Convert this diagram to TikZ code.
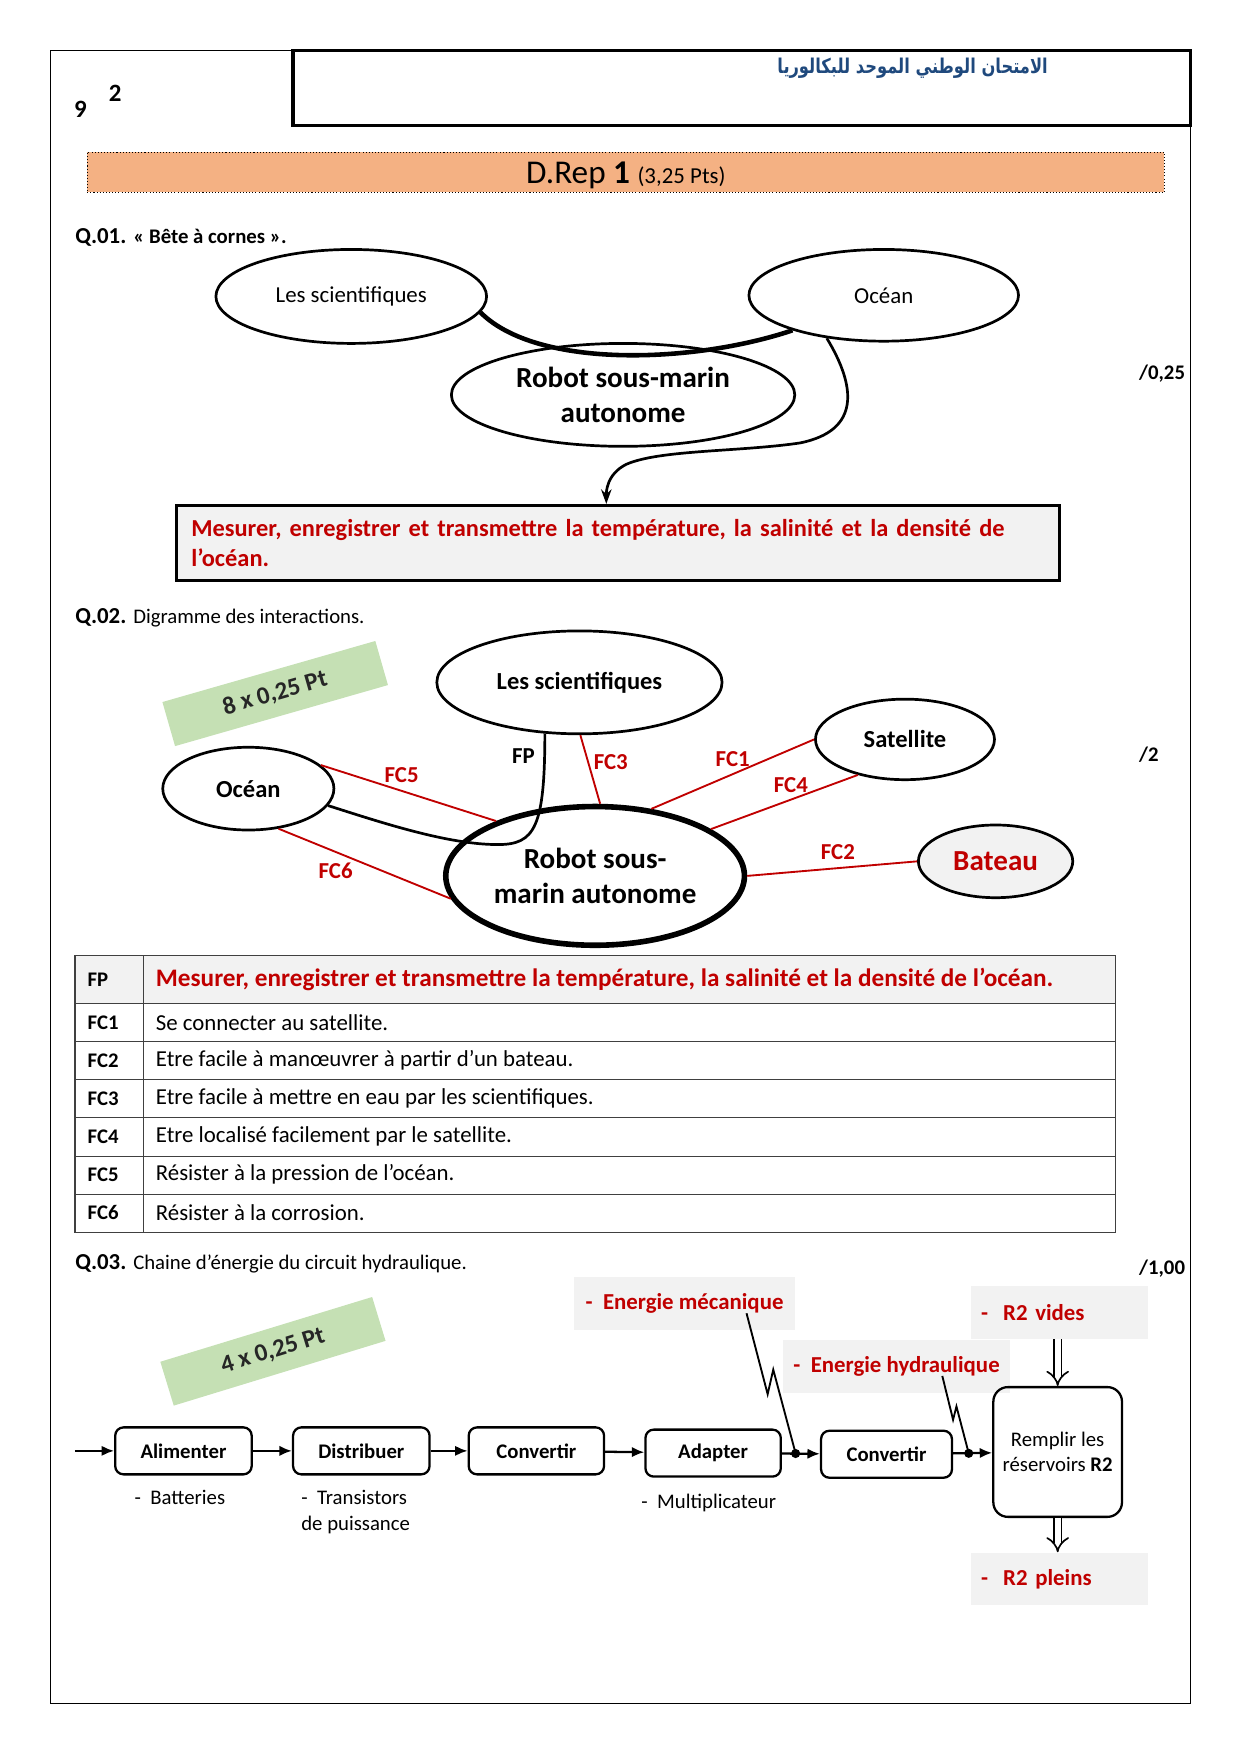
\documentclass[tikz,border=0pt]{standalone}
\usepackage{fontspec}
\setmainfont{Carlito}
\newfontfamily\arabicfont[Script=Arabic]{DejaVu Sans}
\TeXXeTstate=1
\usepackage{tikz}
\usetikzlibrary{arrows.meta,positioning,shapes.geometric,calc}
\usepackage{xcolor}
\definecolor{rouge}{RGB}{192,0,0}
\definecolor{grisclair}{RGB}{242,242,242}
\definecolor{orangebar}{RGB}{244,177,131}
\definecolor{vertnote}{RGB}{197,224,180}
\definecolor{bleuar}{RGB}{31,73,125}
\newcommand\upx{0.018936cm}
\hyphenpenalty=10000

\begin{document}
\begin{tikzpicture}[x=\upx,y=-\upx,font=\fontsize{11}{13}\selectfont,
	ell/.style={ellipse,draw,line width=1.3pt,inner sep=0pt},
	acteur/.style={ell,font=\fontsize{11.8}{14}\selectfont\bfseries},
	txt/.style={anchor=west,inner sep=0pt},
	petit/.style={font=\fontsize{10}{12.5}\selectfont},
	fc/.style={text=rouge,font=\fontsize{11}{13}\selectfont\bfseries,inner sep=1pt},
	fcline/.style={rouge,line width=0.9pt},
	note/.style={fill=vertnote,font=\fontsize{12}{14}\selectfont\bfseries,text=black!85,
		minimum width=198*\upx,minimum height=41*\upx},
	bloc/.style={draw,rounded corners=4pt,line width=1.1pt,font=\bfseries,minimum height=42*\upx},
	energie/.style={fill=grisclair,text=rouge,font=\fontsize{11}{13}\selectfont\bfseries,
		align=left,inner xsep=9*\upx,minimum height=47*\upx},
	fleche/.style={line width=1.1pt,-{Latex[length=6pt,width=5pt]}},
	creux/.style={double,double distance=3pt,line width=0.8pt,-{Implies}}]
	\useasboundingbox (0,0) rectangle (1109,1568);
	\draw[line width=0.6pt] (262,45) -- (45,45) -- (45,1523) -- (1064,1523) -- (1064,112);
	\node[draw,line width=1.6pt,minimum width=802*\upx,minimum height=67*\upx] (entete) at (663,78.5) {};
	\node[anchor=east,inner sep=0pt,text=bleuar,font=\arabicfont\bfseries\fontsize{9.8}{12}\selectfont] (titrear) at (937,61)
	{\scalebox{0.8}[1]{\beginR الامتحان الوطني الموحد للبكالوريا\endR}};
	\node[font=\fontsize{12}{14}\selectfont\bfseries] (n9) at (72,98) {9};
	\node[font=\fontsize{12}{14}\selectfont\bfseries] (n2) at (103,83) {2};
	\node[draw,densely dotted,line width=0.5pt,fill=orangebar,minimum width=963*\upx,minimum height=36*\upx] (titre) at (559.5,154) {};
	\node (titretxt) at ($(titre)+(0,3)$)
	{\fontsize{16}{18}\selectfont D.Rep \textbf{1} {\fontsize{11}{13}\selectfont(3,25 Pts)}};

	\node[txt] (q1) at (67,212) {\textbf{Q.01. {\fontsize{10}{12}\selectfont« Bête à cornes ».}}};
	\node[ell,minimum width=242*\upx,minimum height=84*\upx] (sci1) at (314,265) {Les scientifiques};
	\node[ell,minimum width=241*\upx,minimum height=82*\upx] (oc1) at (790,264) {Océan};
	\node[ell,minimum width=307*\upx,minimum height=92*\upx,align=center,
	font=\fontsize{14}{17}\selectfont\bfseries] (rob1) at (557,353) {Robot sous-marin\\autonome};
	\node[draw,line width=1.6pt,fill=grisclair,minimum width=789*\upx,minimum height=67*\upx,
	text width=763*\upx,inner xsep=13*\upx,align=left,text=rouge,
	font=\fontsize{11.75}{14.5}\selectfont\bfseries] (fpq1) at (552.5,485.5)
	{Mesurer, enregistrer et transmettre la température, la salinité et la densité de l’océan.};
	\draw[line width=2.2pt] (sci1.-7) .. controls (480,330) and (620,325) .. (oc1.-159);
	\draw[line width=1.3pt,-{Stealth[length=7pt,width=5pt]}] (oc1.-143) .. controls (765,345) and (770,385) .. (715,396)
	.. controls (660,404) and (590,402) .. (560,415) .. controls (542,424) and (542,440) .. (542,0 |- fpq1.north);
	\node[txt,font=\bfseries] (m1) at (1018,334) {/0,25};

	\node[txt] (q2) at (67,552) {\textbf{Q.02.} {\fontsize{10}{12}\selectfont Digramme des interactions.}};
	\node[note,rotate=16] (pts8) at (246,620) {8 x 0,25 Pt};
	\node[acteur,minimum width=255*\upx,minimum height=92*\upx] (sci2) at (518,610) {Les scientifiques};
	\node[acteur,minimum width=160*\upx,minimum height=72*\upx] (sat) at (809,661) {Satellite};
	\node[acteur,minimum width=153*\upx,minimum height=74*\upx] (oc2) at (222,705) {Océan};
	\node[ell,fill=grisclair,text=rouge,font=\fontsize{14}{17}\selectfont\bfseries,
	minimum width=138*\upx,minimum height=65*\upx] (bat) at (890,770) {Bateau};
	\node[ell,line width=2.7pt,align=center,font=\fontsize{14}{17}\selectfont\bfseries,
	minimum width=267*\upx,minimum height=124*\upx] (rob2) at (532,783) {Robot sous-\\marin autonome};
	\draw[line width=1.3pt] (sci2.-124) .. controls (487,740) and (478,755) .. (445,755)
	.. controls (400,755) and (340,735) .. (oc2.-12);
	\draw[fcline] (sci2.-89) -- (rob2.86);
	\draw[fcline] (sat.180) -- (rob2.50);
	\draw[fcline] (sat.-143) -- (rob2.22);
	\draw[fcline] (bat.180) -- (rob2.0);
	\draw[fcline] (oc2.18) -- (rob2.151);
	\draw[fcline] (oc2.-53) -- (rob2.-171);
	\node[fc,text=black] (lfp) at (468,676) {FP};
	\node[fc] (lfc3) at (546,681) {FC3};
	\node[fc] (lfc1) at (655,679) {FC1};
	\node[fc] (lfc4) at (707,702) {FC4};
	\node[fc] (lfc2) at (749,762) {FC2};
	\node[fc] (lfc5) at (359,693) {FC5};
	\node[fc] (lfc6) at (300,778) {FC6};
	\node[txt,font=\bfseries] (m2) at (1018,675) {/2};

	\fill[grisclair] (67,854) rectangle (997,897);
	\draw[black!75,line width=0.6pt] (67,854) rectangle (997,1102);
	\draw[black!75,line width=0.6pt] (128,854) -- (128,1102);
	\foreach \yy in {897,931,965,999,1034,1068}
		\draw[black!75,line width=0.6pt] (67,\yy) -- (997,\yy);
	\node[txt,font=\bfseries] (cfp) at (78,876) {FP};
	\node[txt,text=rouge,font=\fontsize{12.15}{14}\selectfont\bfseries] (tfp) at (139,876)
	{Mesurer, enregistrer et transmettre la température, la salinité et la densité de l’océan.};
	\foreach \i/\txt [evaluate=\i as \yy using 914+34*(\i-1)] in
		{1/Se connecter au satellite.,
		 2/Etre facile à manœuvrer à partir d’un bateau.,
		 3/Etre facile à mettre en eau par les scientifiques.,
		 4/Etre localisé facilement par le satellite.,
		 5/Résister à la pression de l’océan.,
		 6/Résister à la corrosion.}{
		\node[txt,font=\bfseries] (c\i) at (78,\yy) {FC\i};
		\node[txt] (t\i) at (139,\yy) {\txt};
	}

	\node[txt] (q3) at (67,1130) {\textbf{Q.03.} {\fontsize{10}{12}\selectfont Chaine d’énergie du circuit hydraulique.}};
	\node[txt,font=\bfseries] (m3) at (1018,1134) {/1,00};
	\node[note,rotate=17] (pts4) at (244,1208) {4 x 0,25 Pt};
	\node[energie,minimum width=198*\upx] (em) at (612,1165.5) {-~~Energie mécanique};
	\node[energie,minimum width=203*\upx] (eh) at (801.5,1221.5) {-~~Energie hydraulique};
	\node[energie,text width=140*\upx] (rv) at (947,1173.5) {-~~R2 vides};
	\node[energie,text width=140*\upx] (rp) at (947,1411.5) {-~~R2 pleins};
	\node[bloc,minimum width=122*\upx] (al) at (164,1297) {Alimenter};
	\node[bloc,minimum width=122*\upx] (di) at (323,1297) {Distribuer};
	\node[bloc,minimum width=121*\upx] (co1) at (479.5,1297) {Convertir};
	\node[bloc,minimum width=121*\upx] (ad) at (637.5,1299) {Adapter};
	\node[bloc,minimum width=117*\upx] (co2) at (792.5,1300) {Convertir};
	\node[bloc,font=\normalfont,align=center,rounded corners=7pt,minimum width=115*\upx,minimum height=116*\upx] (re) at (945.5,1298)
	{Remplir les\\réservoirs \textbf{R2}};
	\coordinate (entree) at (67,1297);
	\draw[fleche] (entree) -- (al);
	\draw[fleche] (al) -- (di);
	\draw[fleche] (di) -- (co1);
	\draw[fleche] (co1) -- (ad);
	\draw[fleche] (ad) -- (co2);
	\draw[fleche] (co2) -- (re);
	\coordinate (p1) at ($(ad.east)!0.36!(co2.west)$);
	\coordinate (p2) at ($(co2.east)!0.4!(re.west)$);
	\fill (p1) circle[radius=2.2pt];
	\fill (p2) circle[radius=2.2pt];
	\draw[line width=0.9pt] ($(em.east)+(-44,8.5)$) -- ($(p1)+(-25,-53)$) -- ($(p1)+(-20,-75)$) -- (p1);
	\draw[line width=0.9pt] ($(eh.east)+(-61,8.5)$) -- ($(p2)+(-14,-30)$) -- ($(p2)+(-11,-42)$) -- (p2);
	\draw[creux] (re.north |- rv.south) -- (re.north);
	\draw[creux] (re.south) -- (re.south |- rp.north);
	\node[txt,petit] (sb1) at (120,1339) {-~~Batteries};
	\node[txt,petit,align=left] (sb2) at (269,1352) {-~~Transistors\\de puissance};
	\node[txt,petit] (sb3) at (573,1344) {-~~Multiplicateur};
\end{tikzpicture}
\end{document}
